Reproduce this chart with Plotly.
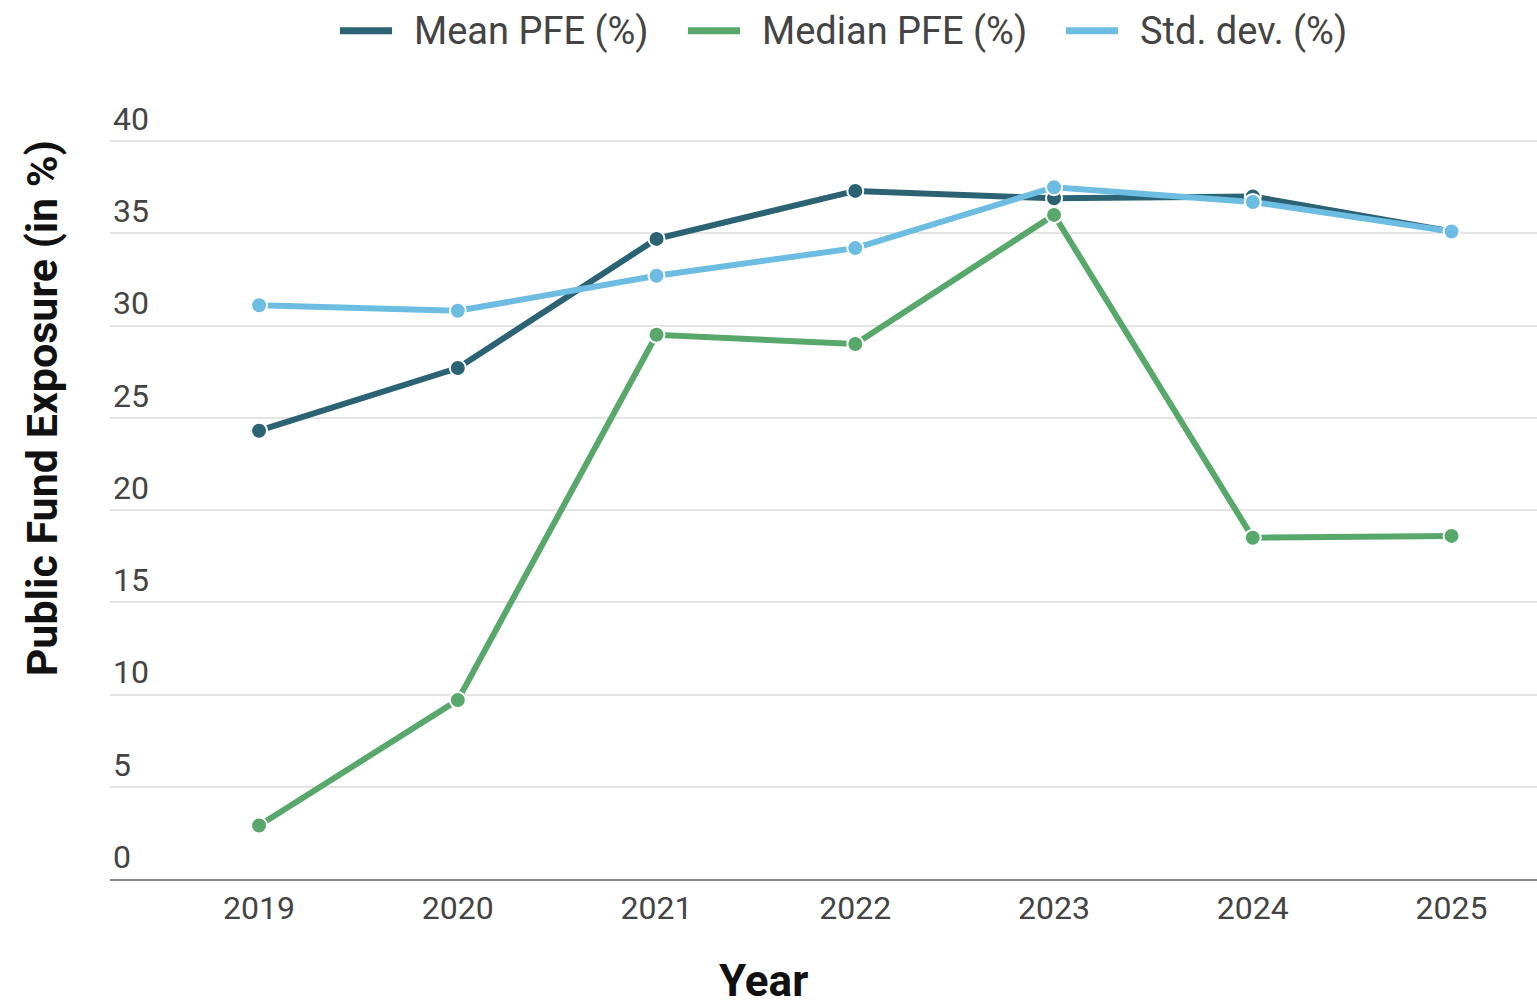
import plotly.graph_objects as go

# Public fund exposure statistics by year
years = ["2019", "2020", "2021", "2022", "2023", "2024", "2025"]
mean_pfe = [24.3, 27.7, 34.7, 37.3, 36.9, 37.0, 35.1]
median_pfe = [2.9, 9.7, 29.5, 29.0, 36.0, 18.5, 18.6]
std_dev = [31.1, 30.8, 32.7, 34.2, 37.5, 36.7, 35.1]

series_names = ["Mean PFE (%)", "Median PFE (%)", "Std. dev. (%)"]
series_values = [mean_pfe, median_pfe, std_dev]
series_colors = ["#2b6374", "#58a86c", "#6dbde2"]

y_ticks = [0, 5, 10, 15, 20, 25, 30, 35, 40]

fig = go.Figure()
for name, vals, color in zip(series_names, series_values, series_colors):
    fig.add_trace(go.Scatter(
        x=years, y=vals, name=name, mode="lines+markers",
        line=dict(color=color, width=6),
        marker=dict(size=16, color=color, line=dict(color="white", width=2)),
        showlegend=False,
    ))

# Legend drawn across the top: a short bar followed by the series name
legend_left_px = [340, 688, 1066]
plot_left, plot_width = 110, 1427
plot_bottom, plot_height = 879, 738
for name, color, px in zip(series_names, series_colors, legend_left_px):
    x0 = (px - plot_left) / plot_width
    x1 = (px + 52 - plot_left) / plot_width
    fig.add_shape(type="line", xref="paper", yref="paper",
                  x0=x0, x1=x1, y0=1.1477, y1=1.1477,
                  line=dict(color=color, width=7))
    fig.add_annotation(xref="paper", yref="paper",
                       x=(px + 72 - plot_left) / plot_width, y=1.1477,
                       xanchor="left", yanchor="middle", showarrow=False,
                       text=name, font=dict(family="Roboto", size=38, color="#444444"))

# Axis titles
fig.add_annotation(xref="paper", yref="paper",
                   x=(42 - plot_left) / plot_width, y=(plot_bottom - 409) / plot_height,
                   xanchor="center", yanchor="middle", showarrow=False, textangle=-90,
                   text="<b>Public Fund Exposure (in %)</b>",
                   font=dict(family="Roboto", size=43, color="#111111"))
fig.add_annotation(xref="paper", yref="paper",
                   x=(763 - plot_left) / plot_width, y=(plot_bottom - 981) / plot_height,
                   xanchor="center", yanchor="middle", showarrow=False,
                   text="<b>Year</b>",
                   font=dict(family="Roboto", size=44, color="#111111"))

fig.update_layout(
    width=1537, height=1007,
    margin=dict(l=110, r=0, t=140, b=128),
    paper_bgcolor="white", plot_bgcolor="white",
    font=dict(family="Roboto", color="#444444"),
    xaxis=dict(
        type="category", range=[-0.75, 6.43],
        showgrid=False, showline=True, linecolor="#8a8a8a", linewidth=2,
        ticks="", tickfont=dict(size=32, color="#444444"),
        fixedrange=True,
    ),
    yaxis=dict(
        range=[0, 40.06], tickvals=y_ticks,
        showgrid=True, gridcolor="#e4e4e4", gridwidth=2,
        zeroline=False, showline=False,
        ticklabelposition="inside top", ticklabeloverflow="allow",
        tickfont=dict(size=32, color="#444444"),
        fixedrange=True,
    ),
)

fig.write_html("out.html")
